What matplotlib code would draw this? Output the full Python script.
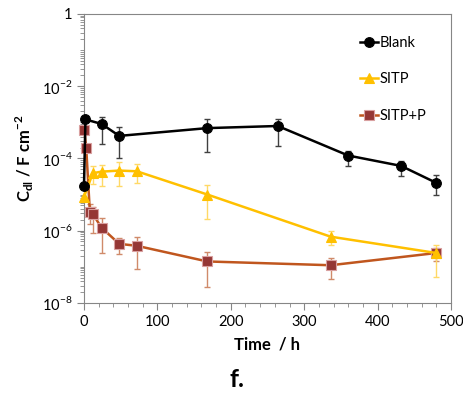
import matplotlib
matplotlib.use('Agg')
import matplotlib.pyplot as plt
import numpy as np
from matplotlib.lines import Line2D
from matplotlib.ticker import LogLocator, FixedLocator, NullFormatter, MultipleLocator

plt.rcParams['font.family'] = ['Lato', 'DejaVu Sans']
plt.rcParams['mathtext.fontset'] = 'custom'
plt.rcParams['mathtext.rm'] = 'Lato'
plt.rcParams['mathtext.bf'] = 'Lato:bold'

# time (h) and Cdl (F cm^-2), error bounds as lower / upper values
blank_t = [0, 2, 24, 48, 168, 264, 360, 432, 480]
blank_y = [1.7e-5, 1.2e-3, 9.0e-4, 4.2e-4, 6.9e-4, 7.9e-4, 1.2e-4, 6.2e-5, 2.1e-5]
blank_lo = [1.7e-5, 1.2e-3, 2.5e-4, 1.0e-4, 1.5e-4, 2.2e-4, 6.3e-5, 3.3e-5, 1.0e-5]
blank_hi = [1.7e-5, 1.2e-3, 1.4e-3, 7.4e-4, 1.2e-3, 1.25e-3, 1.6e-4, 8.5e-5, 3.5e-5]

sitp_t = [0, 12, 24, 48, 72, 168, 336, 480]
sitp_y = [8.5e-6, 3.9e-5, 4.3e-5, 4.6e-5, 4.4e-5, 1.0e-5, 6.8e-7, 2.4e-7]
sitp_lo = [8.5e-6, 2.0e-5, 1.7e-5, 1.7e-5, 2.1e-5, 2.1e-6, 4.0e-7, 5.1e-8]
sitp_hi = [8.5e-6, 6.0e-5, 6.5e-5, 7.9e-5, 7.1e-5, 1.8e-5, 1.0e-6, 4.0e-7]

sitpp_t = [0.5, 3, 8, 12, 24, 48, 72, 168, 336, 480]
sitpp_y = [6.1e-4, 2.0e-4, 3.3e-6, 2.9e-6, 1.2e-6, 4.3e-7, 3.8e-7, 1.4e-7, 1.1e-7, 2.4e-7]
sitpp_lo = [6.1e-4, 2.0e-4, 1.5e-6, 8.5e-7, 2.4e-7, 2.2e-7, 8.7e-8, 2.8e-8, 4.6e-8, 1.45e-7]
sitpp_hi = [6.1e-4, 2.0e-4, 5.5e-6, 4.5e-6, 2.2e-6, 6.3e-7, 6.6e-7, 2.6e-7, 1.7e-7, 3.3e-7]

def yerr(y, lo, hi):
    y = np.array(y)
    return [y - np.array(lo), np.array(hi) - y]

fig = plt.figure(figsize=(4.64, 3.99), dpi=100)
ax = fig.add_axes([0.181, 0.241, 0.791, 0.724])

styles = [
    dict(color='black', marker='o', ms=7, mfc='black', mec='black', mew=0.8),
    dict(color='#FFC000', marker='^', ms=7, mfc='#FFC000', mec='#FFC000', mew=0.8),
    dict(color='#C0561E', marker='s', ms=6.5, mfc='#953735', mec='#D9A0A0', mew=0.8),
]
ecolors = ['#404040', '#FFD966', '#D08A6A']
series = [(blank_t, blank_y, blank_lo, blank_hi),
          (sitp_t, sitp_y, sitp_lo, sitp_hi),
          (sitpp_t, sitpp_y, sitpp_lo, sitpp_hi)]
labels = ['Blank', 'SITP', 'SITP+P']

for i, (t, y, lo, hi) in enumerate(series):
    ax.errorbar(t, y, yerr=yerr(y, lo, hi), fmt='none', ecolor=ecolors[i],
                elinewidth=1, capsize=2.5, zorder=5 - i)
    ax.plot(t, y, lw=1.8, clip_on=False, zorder=6 - i, **styles[i])

ax.set_yscale('log')
ax.set_ylim(1e-8, 1)
ax.set_xlim(0, 500)

ax.xaxis.set_major_locator(MultipleLocator(100))
ax.xaxis.set_minor_locator(MultipleLocator(20))
ax.yaxis.set_major_locator(FixedLocator([1e-8, 1e-6, 1e-4, 1e-2, 1]))
ax.yaxis.set_minor_locator(LogLocator(base=10, subs=np.arange(1, 10), numticks=20))
ax.yaxis.set_minor_formatter(NullFormatter())
ax.set_yticklabels(['10$^{-8}$', '10$^{-6}$', '10$^{-4}$', '10$^{-2}$', '1'])

for s in ax.spines.values():
    s.set_color('#868686')
ax.tick_params(axis='both', which='major', labelsize=10.5, color='#868686', length=5)
ax.tick_params(axis='both', which='minor', color='#868686', length=3)

ax.set_xlabel('Time  / h', fontsize=12, fontweight='bold', labelpad=6)
ax.set_ylabel('C$_{\\mathbf{dl}}$ / F cm$^{\\mathbf{-2}}$', fontsize=12, fontweight='bold')
fig.text(0.51, 0.03, 'f.', fontsize=18, fontweight='bold', ha='center')

handles = [Line2D([], [], lw=1.8, **st) for st in styles]
ax.legend(handles, labels, loc='upper left', frameon=False, fontsize=10.5, handlelength=1.3,
          handletextpad=0.1, labelspacing=1.55, bbox_to_anchor=(0.715, 0.97), numpoints=1)

fig.savefig('out.png', dpi=100)
